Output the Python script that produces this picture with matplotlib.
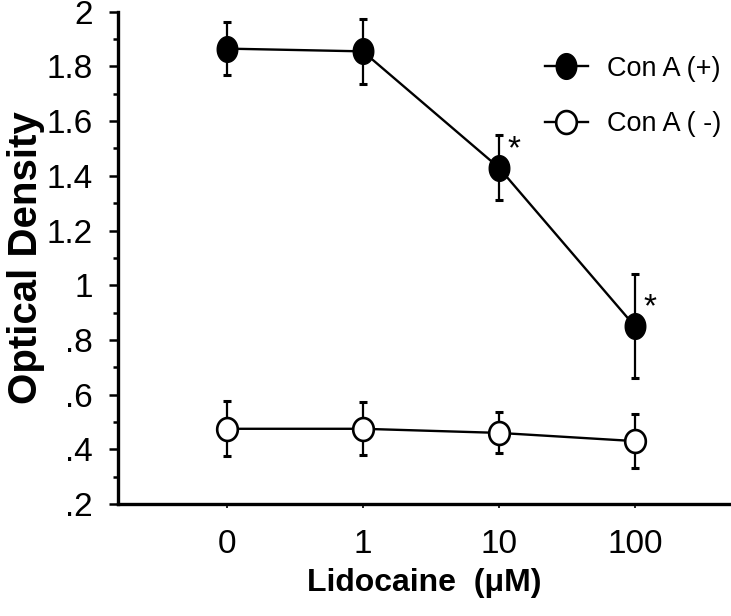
import matplotlib
matplotlib.use("Agg")
import matplotlib.pyplot as plt
import numpy as np
from matplotlib.path import Path
from matplotlib.ticker import MultipleLocator

# data
doses = ['0', '1', '10', '100']
con_plus = [1.865, 1.855, 1.43, 0.85]
con_plus_err = [0.097, 0.12, 0.12, 0.19]
con_minus = [0.475, 0.475, 0.46, 0.43]
con_minus_err = [0.10, 0.097, 0.075, 0.10]
starred = [2, 3]  # indices marked with *

y_ticks = [0.2, 0.4, 0.6, 0.8, 1.0, 1.2, 1.4, 1.6, 1.8, 2.0]
y_tick_labels = ['.2', '.4', '.6', '.8', '1', '1.2', '1.4', '1.6', '1.8', '2']

plt.rcParams['font.family'] = ['Liberation Sans', 'DejaVu Sans']


def ellipse(aspect):
    t = np.linspace(0, 2 * np.pi, 60)
    verts = np.column_stack([aspect * np.cos(t), np.sin(t)])
    return Path(verts, closed=True)


fig = plt.figure(figsize=(7.31, 6.16), dpi=100)
ax = fig.add_axes([118 / 731, 1 - 504 / 616, (730 - 118) / 731, (504 - 11.7) / 616])

x = np.arange(len(doses))

# error bars under the markers
ax.errorbar(x, con_plus, yerr=con_plus_err, fmt='none', ecolor='black',
            elinewidth=1.6, capsize=3, capthick=2.2, zorder=2)
ax.errorbar(x, con_minus, yerr=con_minus_err, fmt='none', ecolor='black',
            elinewidth=1.6, capsize=3, capthick=2.2, zorder=2)

ax.plot(x, con_plus, color='black', lw=1.7, marker=ellipse(0.8), markersize=18.5,
        markerfacecolor='black', markeredgecolor='black', label='Con A (+)', zorder=3)
ax.plot(x, con_minus, color='black', lw=1.7, marker=ellipse(0.9), markersize=16.5,
        markerfacecolor='white', markeredgecolor='black', markeredgewidth=1.9,
        label='Con A ( -)', zorder=3)

for i in starred:
    ax.annotate('*', (x[i], con_plus[i]), xytext=(11, 13), textcoords='offset points',
                ha='center', va='center', fontsize=24)

ax.set_xlim(-0.80, 3.70)
ax.set_ylim(0.2, 2.0)
ax.set_xticks(x)
ax.set_xticklabels(doses)
ax.set_yticks(y_ticks)
ax.set_yticklabels(y_tick_labels)
ax.yaxis.set_minor_locator(MultipleLocator(0.1))

for side in ['top', 'right']:
    ax.spines[side].set_visible(False)
for side in ['left', 'bottom']:
    ax.spines[side].set_linewidth(2.4)

ax.tick_params(axis='y', which='major', length=6.5, width=1.8, labelsize=24, pad=11.5)
ax.tick_params(axis='y', which='minor', length=3.6, width=1.8)
ax.tick_params(axis='x', which='major', length=3, width=1.2, labelsize=24, pad=15)

ax.set_ylabel('Optical Density', fontsize=29, fontweight='bold', labelpad=1)
ax.set_xlabel('Lidocaine  (\u03bcM)', fontsize=23, fontweight='bold', labelpad=6)

ax.legend(loc='upper left', bbox_to_anchor=(531 / 731, 1 - 42 / 616),
          bbox_transform=fig.transFigure, frameon=False, fontsize=19.5,
          handlelength=1.6, handletextpad=0.7, labelspacing=1.1, borderpad=0)

fig.savefig('out.png', dpi=100)
